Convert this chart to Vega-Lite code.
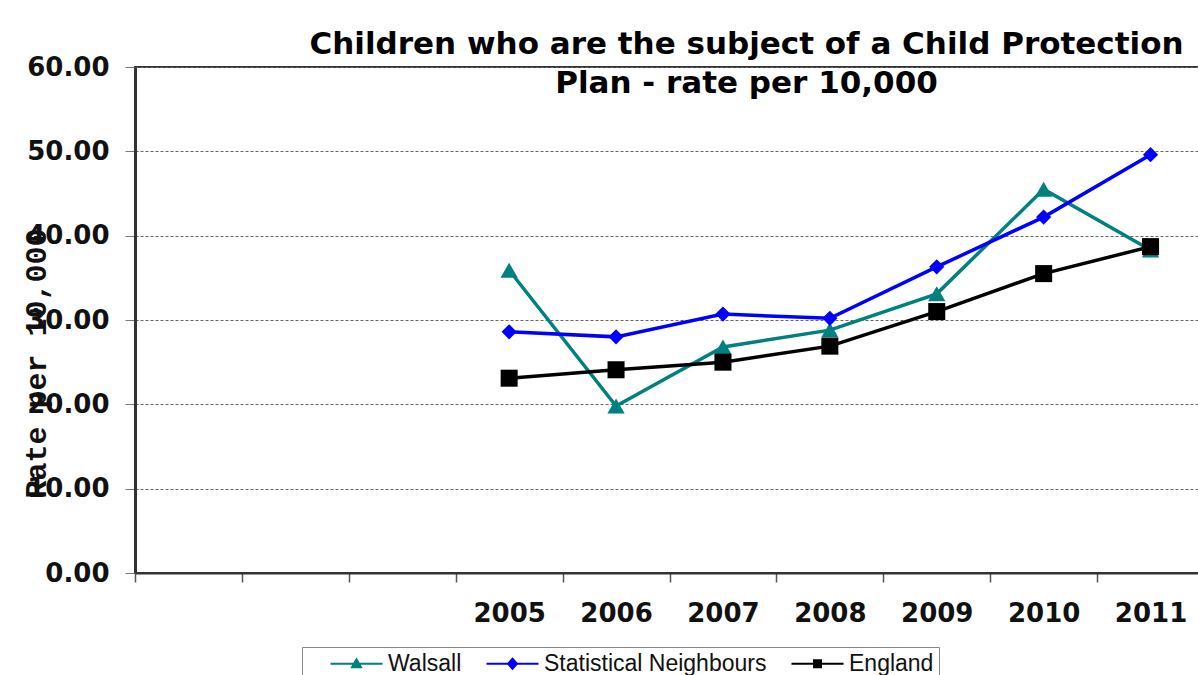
{
  "$schema": "https://vega.github.io/schema/vega-lite/v6.json",
  "width": 1069,
  "height": 506,
  "autosize": {"type": "none"},
  "padding": {"left": 135, "top": 67, "right": 0, "bottom": 102},
  "background": "white",
  "title": {
    "text": ["Children who are the subject of a Child Protection", "Plan - rate per 10,000"],
    "font": "DejaVu Sans",
    "fontSize": 31,
    "fontWeight": "bold",
    "color": "#000",
    "anchor": "middle",
    "frame": "group",
    "dx": 77,
    "dy": 70,
    "offset": 0,
    "lineHeight": 39,
    "baseline": "alphabetic"
  },
  "config": {"view": {"stroke": "#333", "strokeWidth": 2}},
  "data": {
    "values": [
      {"series": "Walsall", "year": "2005", "rate": 35.9},
      {"series": "Walsall", "year": "2006", "rate": 19.8},
      {"series": "Walsall", "year": "2007", "rate": 26.8},
      {"series": "Walsall", "year": "2008", "rate": 28.8},
      {"series": "Walsall", "year": "2009", "rate": 33.1},
      {"series": "Walsall", "year": "2010", "rate": 45.5},
      {"series": "Walsall", "year": "2011", "rate": 38.3},
      {"series": "Statistical Neighbours", "year": "2005", "rate": 28.6},
      {"series": "Statistical Neighbours", "year": "2006", "rate": 28.0},
      {"series": "Statistical Neighbours", "year": "2007", "rate": 30.7},
      {"series": "Statistical Neighbours", "year": "2008", "rate": 30.2},
      {"series": "Statistical Neighbours", "year": "2009", "rate": 36.3},
      {"series": "Statistical Neighbours", "year": "2010", "rate": 42.2},
      {"series": "Statistical Neighbours", "year": "2011", "rate": 49.6},
      {"series": "England", "year": "2005", "rate": 23.1},
      {"series": "England", "year": "2006", "rate": 24.1},
      {"series": "England", "year": "2007", "rate": 25.0},
      {"series": "England", "year": "2008", "rate": 26.9},
      {"series": "England", "year": "2009", "rate": 31.0},
      {"series": "England", "year": "2010", "rate": 35.5},
      {"series": "England", "year": "2011", "rate": 38.7}
    ]
  },
  "encoding": {
    "x": {
      "field": "year",
      "type": "nominal",
      "scale": {"type": "point", "domain": ["p1", "p2", "p3", "2005", "2006", "2007", "2008", "2009", "2010", "2011"], "padding": 0.5},
      "axis": {
        "title": null,
        "labelExpr": "substring(datum.label, 0, 1) == 'p' ? '' : datum.label",
        "labelAngle": 0,
        "labelFont": "DejaVu Sans",
        "labelFontSize": 26,
        "labelFontWeight": "bold",
        "labelColor": "#111",
        "labelPadding": 18,
        "labelOverlap": false,
        "labelFlush": false,
        "tickSize": 9,
        "tickWidth": 1.5,
        "tickColor": "#555",
        "tickOffset": -53.45,
        "labelOffset": 53.45,
        "domainColor": "#333",
        "domainWidth": 2,
        "grid": false
      }
    },
    "y": {
      "field": "rate",
      "type": "quantitative",
      "scale": {"domain": [0, 60]},
      "axis": {
        "values": [0, 10, 20, 30, 40, 50, 60],
        "format": ".2f",
        "labelFont": "DejaVu Sans",
        "labelFontSize": 26,
        "labelFontWeight": "bold",
        "labelColor": "#111",
        "labelPadding": 16,
        "labelFlush": false,
        "tickSize": 10,
        "tickColor": "#777",
        "domainColor": "#333",
        "domainWidth": 3,
        "grid": true,
        "gridDash": [3, 2],
        "gridColor": "#666",
        "gridWidth": 1,
        "title": "Rate per 10,000",
        "titleFont": "Liberation Mono",
        "titleFontSize": 30,
        "titleFontWeight": "bold",
        "titleColor": "#111",
        "titleAngle": 270,
        "titleX": -90,
        "titleY": 296,
        "titleAlign": "center",
        "titleBaseline": "alphabetic"
      }
    },
    "color": {
      "field": "series",
      "type": "nominal",
      "scale": {"domain": ["Walsall", "Statistical Neighbours", "England"], "range": ["#008080", "#0000FF", "#000000"]},
      "legend": {
        "orient": "none",
        "legendX": 167,
        "legendY": 580,
        "direction": "horizontal",
        "title": null,
        "symbolSize": 400,
        "symbolStrokeWidth": 2,
        "symbolOpacity": 1,
        "labelOffset": 58,
        "columnPadding": 1,
        "padding": 5,
        "strokeColor": "#888",
        "fillColor": "#fff",
        "labelFont": "Liberation Sans",
        "labelFontSize": 23,
        "labelColor": "#111",
        "labelLimit": 400
      }
    }
  },
  "layer": [
    {
      "mark": {"type": "line", "strokeWidth": 3.5}
    },
    {
      "transform": [{"filter": "datum.series === 'Walsall'"}],
      "mark": {"type": "point", "filled": true, "opacity": 1, "size": 300, "shape": "triangle-up"}
    },
    {
      "transform": [{"filter": "datum.series === 'Statistical Neighbours'"}],
      "mark": {"type": "point", "filled": true, "opacity": 1, "size": 230, "shape": "diamond"}
    },
    {
      "transform": [{"filter": "datum.series === 'England'"}],
      "mark": {"type": "point", "filled": true, "opacity": 1, "size": 290, "shape": "square"}
    },
    {
      "transform": [{"filter": "false"}],
      "mark": {"type": "point", "filled": true, "opacity": 1},
      "encoding": {
        "shape": {
          "field": "series",
          "type": "nominal",
          "scale": {
            "domain": ["Walsall", "Statistical Neighbours", "England"],
            "range": [
              "M1.2,0L6.4,0M3.8,-0.45L4.25,0.35L3.35,0.35Z",
              "M1.2,0L6.4,0M3.8,-0.5L4.25,0L3.8,0.5L3.35,0Z",
              "M1.2,0L6.4,0M3.45,-0.35L4.15,-0.35L4.15,0.35L3.45,0.35Z"
            ]
          }
        },
        "stroke": {
          "field": "series",
          "type": "nominal",
          "scale": {"domain": ["Walsall", "Statistical Neighbours", "England"], "range": ["#008080", "#0000FF", "#000000"]}
        }
      }
    }
  ]
}
